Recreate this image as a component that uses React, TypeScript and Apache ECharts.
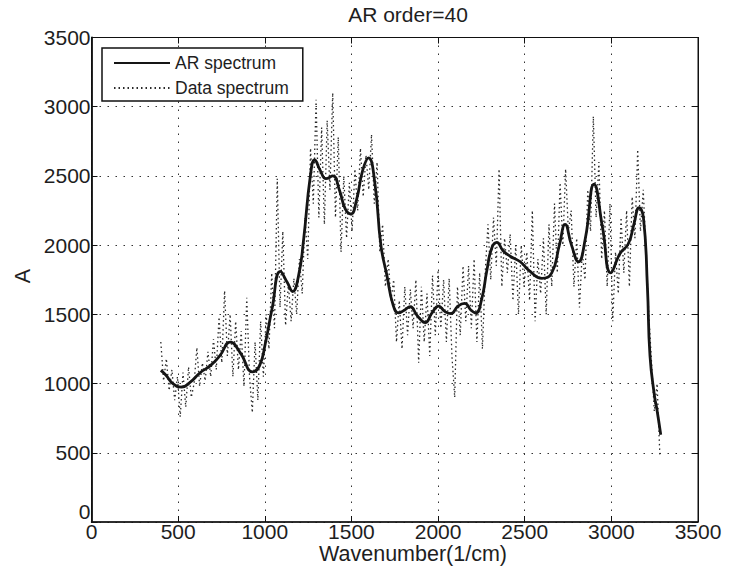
import React, { useEffect, useRef } from "react";
import * as echarts from "echarts";

// AR spectrum (smooth model curve): wavenumber / amplitude
const arWavenumber = [
  400, 430, 470, 520, 570, 628, 686, 740, 801, 860, 930, 970, 1003, 1042, 1090, 1130, 1160, 1195,
  1224, 1263, 1288, 1320, 1353, 1393, 1430, 1465, 1497, 1530, 1565, 1599, 1635, 1670, 1705, 1740,
  1772, 1805, 1839, 1880, 1926, 1965, 2003, 2040, 2074, 2115, 2153, 2190, 2218, 2250, 2282, 2310,
  2339, 2375, 2416, 2474, 2531, 2599, 2656, 2700, 2733, 2770, 2810, 2850, 2900, 2950, 2997, 3050,
  3098, 3130, 3160, 3185, 3208, 3223, 3250, 3262, 3285,
];
const arValues = [
  1095, 1060, 1000, 975, 1010, 1080, 1130, 1200, 1300, 1220, 1085, 1130, 1290, 1540, 1810, 1730, 1665, 1780,
  2040, 2500, 2615, 2540, 2480, 2500, 2400, 2260, 2225, 2330, 2540, 2630, 2450, 2000, 1780, 1570,
  1510, 1530, 1555, 1490, 1440, 1510, 1560, 1520, 1505, 1560, 1580, 1530, 1510, 1600, 1820, 1980,
  2020, 1960, 1920, 1880, 1810, 1760, 1800, 2000, 2150, 2000, 1880, 2050, 2440, 2120, 1800, 1940,
  2010, 2150, 2270, 2200, 1700, 1200, 900, 820, 630,
];

// Data spectrum: sampled from 400 cm^-1 every 16 cm^-1
const DATA_START = 400;
const DATA_STEP = 16;
const dataValues = [
  1300, 1020, 1180, 950, 1100, 880, 1050,
  760, 1080, 830, 1120, 900, 1000,
  1260, 980, 1150, 1020, 1230, 1050, 1320,
  1100, 1480, 1150, 1670, 1200, 1500,
  1050, 1450, 1100, 1380, 980, 1620, 1050,
  790, 1300, 880, 1450, 1050, 1500,
  1250, 1800, 1400, 2480, 1550, 2100,
  1420, 1720, 1450, 1760, 1500, 1900,
  1650, 2200, 1900, 2700, 2300, 3050,
  2200, 2850, 2150, 2900, 2400, 3100,
  2200, 2780, 1950, 2500, 2050, 2450,
  2100, 2550, 2250, 2700, 2350, 2650,
  2400, 2800, 2300, 2600, 1950, 2150,
  1700, 1900, 1600, 1750, 1300, 1600,
  1250, 1700, 1350, 1680, 1400, 1750,
  1150, 1700, 1300, 1650, 1200, 1780,
  1350, 1820, 1400, 1750, 1300, 1760,
  1200, 900, 1700, 1350, 1850, 1450,
  1850, 1400, 1900, 1300, 1800, 1250,
  1800, 2150, 1750, 2200, 1850, 2550,
  1700, 2050, 1800, 2080, 1600, 2000,
  1500, 2000, 1700, 1950, 1600, 2250,
  1450, 1900, 1650, 2050, 1500, 2150,
  1700, 2300, 1800, 2450, 2000, 2550,
  2100, 2250, 1700, 2050, 1550, 1950,
  1750, 2400, 2100, 2930, 2200, 2600,
  1900, 2250, 1700, 2300, 1450, 1950,
  1650, 2200, 1800, 2250, 1700, 2350,
  2050, 2690, 2100, 2400, 1950, 1500,
  1150, 800, 1000, 480,
];

const axisTicks = [0, 500, 1000, 1500, 2000, 2500, 3000, 3500];

const TITLE = "AR order=40";
const X_NAME = "Wavenumber(1/cm)";
const Y_NAME = "A";
const SERIES_AR = "AR spectrum";
const SERIES_DATA = "Data spectrum";

const FONT = "'Liberation Sans', Arial, Helvetica, sans-serif";
const TXT = "#1e1e1e";

export default function App() {
  const ref = useRef<HTMLDivElement>(null);

  useEffect(() => {
    document.body.style.margin = "0";
    if (!ref.current) return;
    const chart = echarts.init(ref.current, undefined, { renderer: "svg" });

    const arData = arWavenumber.map((x, i) => [x, arValues[i]]);
    const rawData = dataValues.map((v, i) => [DATA_START + i * DATA_STEP, v]);
    const minV = axisTicks[0];
    const maxV = axisTicks[axisTicks.length - 1];
    const interval = axisTicks[1] - axisTicks[0];
    const plain = (v: number) => String(v);

    const baseAxis = {
      type: "value" as const,
      min: minV,
      max: maxV,
      interval,
    };

    chart.setOption({
      animation: false,
      backgroundColor: "#fff",
      textStyle: { fontFamily: FONT },
      grid: {
        left: 91.5,
        right: 34,
        top: 37.5,
        bottom: 49,
        show: true,
        borderColor: "#111",
        borderWidth: 1,
        backgroundColor: "transparent",
      },
      legend: {
        left: 102,
        top: 48,
        orient: "vertical",
        padding: [6, 14, 4, 11],
        itemGap: 7,
        itemWidth: 56,
        itemHeight: 18,
        borderColor: "#111",
        borderWidth: 1.5,
        backgroundColor: "#fff",
        itemStyle: { opacity: 0 },
        textStyle: { fontSize: 17.5, color: TXT, fontFamily: FONT, lineHeight: 18 },
        data: [SERIES_AR, SERIES_DATA],
      },
      xAxis: [
        {
          ...baseAxis,
          position: "bottom",
          axisLine: { show: true, onZero: false, lineStyle: { color: "#111", width: 1.5 } },
          axisTick: { show: true, inside: true, length: 6, lineStyle: { color: "#111" } },
          axisLabel: { color: TXT, fontSize: 21, fontFamily: FONT, margin: -1, lineHeight: 20, formatter: plain },
          splitLine: { show: true, lineStyle: { color: "#333", type: [1.5, 6.5], width: 1 } },
        },
        {
          ...baseAxis,
          position: "top",
          axisLine: { show: true, onZero: false, lineStyle: { color: "#111", width: 1 } },
          axisTick: { show: true, inside: true, length: 6, lineStyle: { color: "#111" } },
          axisLabel: { show: false },
          splitLine: { show: false },
        },
      ],
      yAxis: [
        {
          ...baseAxis,
          position: "left",
          axisLine: { show: true, onZero: false, lineStyle: { color: "#111", width: 1.8 } },
          axisTick: { show: true, inside: true, length: 6, lineStyle: { color: "#111" } },
          axisLabel: {
            color: TXT,
            fontSize: 21,
            fontFamily: FONT,
            margin: 1,
            formatter: plain,
            verticalAlignMinLabel: "bottom",
          },
          splitLine: { show: true, lineStyle: { color: "#333", type: [1.5, 6.5], width: 1 } },
        },
        {
          ...baseAxis,
          position: "right",
          axisLine: { show: true, onZero: false, lineStyle: { color: "#111", width: 1 } },
          axisTick: { show: true, inside: true, length: 6, lineStyle: { color: "#111" } },
          axisLabel: { show: false },
          splitLine: { show: false },
        },
      ],
      graphic: [
        {
          type: "text",
          x: 408,
          y: 14,
          style: { text: TITLE, font: `21px ${FONT}`, fill: TXT, textAlign: "center", textVerticalAlign: "middle" },
        },
        {
          type: "text",
          x: 413,
          y: 554,
          style: { text: X_NAME, font: `21.5px ${FONT}`, fill: TXT, textAlign: "center", textVerticalAlign: "middle" },
        },
        {
          type: "text",
          x: 23,
          y: 276,
          rotation: Math.PI / 2,
          style: { text: Y_NAME, font: `21.5px ${FONT}`, fill: TXT, textAlign: "center", textVerticalAlign: "middle" },
        },
      ],
      series: [
        {
          name: SERIES_DATA,
          type: "line",
          data: rawData,
          showSymbol: false,
          symbol: "none",
          lineStyle: { color: "#2a2a2a", width: 1.3, type: [1.5, 3] },
          itemStyle: { color: "#2a2a2a" },
          z: 2,
        },
        {
          name: SERIES_AR,
          type: "line",
          data: arData,
          smooth: 0.5,
          showSymbol: false,
          symbol: "none",
          lineStyle: { color: "#151515", width: 2.8 },
          itemStyle: { color: "#151515" },
          z: 3,
        },
      ],
    });

    return () => chart.dispose();
  }, []);

  return <div ref={ref} style={{ width: 732, height: 571 }} />;
}
